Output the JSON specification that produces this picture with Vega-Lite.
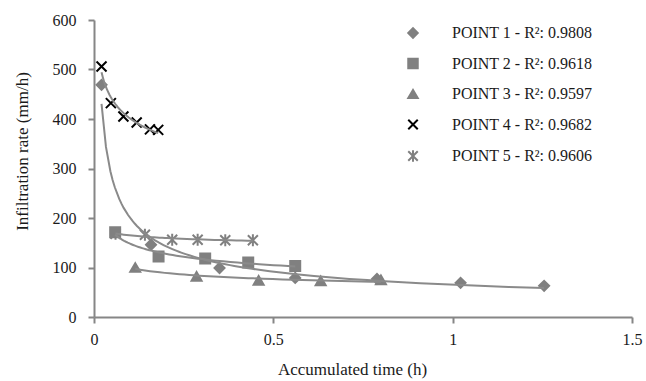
{
  "$schema": "https://vega.github.io/schema/vega-lite/v6.json",
  "width": 538,
  "height": 297,
  "autosize": {"type": "none"},
  "padding": {"left": 94, "top": 20, "right": 14, "bottom": 64},
  "background": "white",
  "config": {
    "view": {"stroke": null},
    "font": "Liberation Serif",
    "axis": {
      "grid": false,
      "domainColor": "#868686",
      "domainWidth": 2,
      "tickColor": "#868686",
      "tickWidth": 2,
      "tickSize": 6,
      "labelFont": "Liberation Serif",
      "labelFontSize": 16,
      "labelColor": "#1a1a1a",
      "labelFlush": false,
      "titleFont": "Liberation Serif",
      "titleFontSize": 17,
      "titleFontWeight": "normal",
      "titleColor": "#1a1a1a"
    }
  },
  "data": {
    "values": [
      {"series": "POINT 1 - R²: 0.9808", "x": 0.021, "y": 469},
      {"series": "POINT 1 - R²: 0.9808", "x": 0.159, "y": 146},
      {"series": "POINT 1 - R²: 0.9808", "x": 0.35, "y": 99},
      {"series": "POINT 1 - R²: 0.9808", "x": 0.561, "y": 79},
      {"series": "POINT 1 - R²: 0.9808", "x": 0.789, "y": 77},
      {"series": "POINT 1 - R²: 0.9808", "x": 1.022, "y": 69},
      {"series": "POINT 1 - R²: 0.9808", "x": 1.255, "y": 63},
      {"series": "POINT 2 - R²: 0.9618", "x": 0.059, "y": 171},
      {"series": "POINT 2 - R²: 0.9618", "x": 0.18, "y": 122},
      {"series": "POINT 2 - R²: 0.9618", "x": 0.31, "y": 118},
      {"series": "POINT 2 - R²: 0.9618", "x": 0.43, "y": 110},
      {"series": "POINT 2 - R²: 0.9618", "x": 0.561, "y": 103},
      {"series": "POINT 3 - R²: 0.9597", "x": 0.115, "y": 100},
      {"series": "POINT 3 - R²: 0.9597", "x": 0.286, "y": 82},
      {"series": "POINT 3 - R²: 0.9597", "x": 0.459, "y": 74},
      {"series": "POINT 3 - R²: 0.9597", "x": 0.632, "y": 73},
      {"series": "POINT 3 - R²: 0.9597", "x": 0.8, "y": 75},
      {"series": "POINT 4 - R²: 0.9682", "x": 0.021, "y": 506},
      {"series": "POINT 4 - R²: 0.9682", "x": 0.047, "y": 432},
      {"series": "POINT 4 - R²: 0.9682", "x": 0.082, "y": 405},
      {"series": "POINT 4 - R²: 0.9682", "x": 0.119, "y": 393},
      {"series": "POINT 4 - R²: 0.9682", "x": 0.156, "y": 379},
      {"series": "POINT 4 - R²: 0.9682", "x": 0.179, "y": 378},
      {"series": "POINT 5 - R²: 0.9606", "x": 0.06, "y": 168},
      {"series": "POINT 5 - R²: 0.9606", "x": 0.142, "y": 166},
      {"series": "POINT 5 - R²: 0.9606", "x": 0.218, "y": 156},
      {"series": "POINT 5 - R²: 0.9606", "x": 0.289, "y": 156},
      {"series": "POINT 5 - R²: 0.9606", "x": 0.366, "y": 155},
      {"series": "POINT 5 - R²: 0.9606", "x": 0.443, "y": 155}
    ]
  },
  "layer": [
    {
      "mark": {"type": "point", "filled": true, "size": 100, "strokeWidth": 2, "opacity": 1},
      "encoding": {
        "x": {
          "field": "x", "type": "quantitative",
          "scale": {"domain": [0, 1.5], "nice": false},
          "axis": {"values": [0, 0.5, 1, 1.5], "format": "~g", "title": "Accumulated time (h)", "labelPadding": 8, "titleX": 258, "titleY": 52, "titleBaseline": "middle"}
        },
        "y": {
          "field": "y", "type": "quantitative",
          "scale": {"domain": [0, 600], "nice": false},
          "axis": {"values": [0, 100, 200, 300, 400, 500, 600], "title": "Infiltration rate (mm/h)", "labelPadding": 12, "titleX": -72, "titleY": 131, "titleAngle": -90, "titleBaseline": "middle"}
        },
        "shape": {
          "field": "series", "type": "nominal",
          "scale": {
            "domain": ["POINT 1 - R²: 0.9808", "POINT 2 - R²: 0.9618", "POINT 3 - R²: 0.9597", "POINT 4 - R²: 0.9682", "POINT 5 - R²: 0.9606"],
            "range": ["diamond", "square", "triangle-up", "M-1,-1L1,1M1,-1L-1,1", "M-1,-1L1,1M1,-1L-1,1M0,-1.2L0,1.2"]
          },
          "legend": {
            "title": null,
            "orient": "none",
            "legendX": 311,
            "legendY": 5,
            "padding": 0,
            "labelFont": "Liberation Serif",
            "labelFontSize": 16,
            "labelColor": "#1a1a1a",
            "labelOffset": 31,
            "rowPadding": 12.5,
            "symbolSize": 90,
            "symbolStrokeWidth": 2
          }
        },
        "fill": {
          "field": "series", "type": "nominal",
          "scale": {
            "domain": ["POINT 1 - R²: 0.9808", "POINT 2 - R²: 0.9618", "POINT 3 - R²: 0.9597", "POINT 4 - R²: 0.9682", "POINT 5 - R²: 0.9606"],
            "range": ["#808080", "#808080", "#808080", "#000000", "#808080"]
          }
        },
        "stroke": {
          "field": "series", "type": "nominal",
          "scale": {
            "domain": ["POINT 1 - R²: 0.9808", "POINT 2 - R²: 0.9618", "POINT 3 - R²: 0.9597", "POINT 4 - R²: 0.9682", "POINT 5 - R²: 0.9606"],
            "range": ["#808080", "#808080", "#808080", "#000000", "#808080"]
          }
        }
      }
    },
    {
      "transform": [{"regression": "y", "on": "x", "groupby": ["series"], "method": "pow"}],
      "mark": {"type": "line", "color": "#8a8a8a", "strokeWidth": 2},
      "encoding": {
        "x": {"field": "x", "type": "quantitative"},
        "y": {"field": "y", "type": "quantitative"},
        "detail": {"field": "series", "type": "nominal"}
      }
    }
  ]
}
